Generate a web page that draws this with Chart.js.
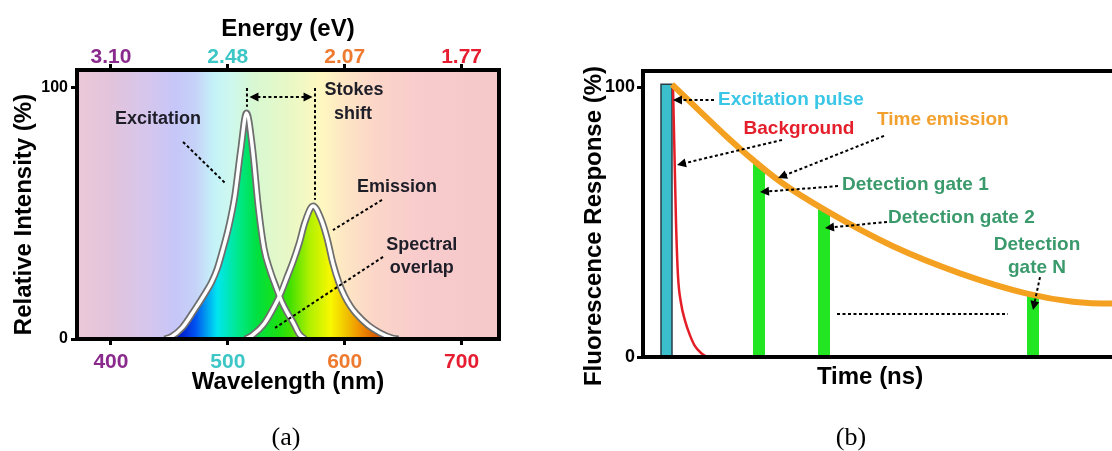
<!DOCTYPE html>
<html><head><meta charset="utf-8">
<script src="https://cdn.jsdelivr.net/npm/chart.js@4.4.1/dist/chart.umd.min.js"></script>
<style>
html,body{margin:0;padding:0;background:#fff;overflow:hidden;width:1112px;height:451px;}
#wrap{position:relative;width:1112px;height:451px;overflow:hidden;background:#fff;}
#ca{position:absolute;left:0;top:0;}
#cb{position:absolute;left:560px;top:0;}
.cap{position:absolute;font-family:'Liberation Serif','Times New Roman',serif;font-size:26px;color:#000;transform:translate(-50%,-50%);white-space:nowrap;}
</style></head><body>
<div id="wrap">
<canvas id="ca" width="540" height="451"></canvas>
<canvas id="cb" width="620" height="451"></canvas>
<div class="cap" style="left:286px;top:437px;">(a)</div>
<div class="cap" style="left:851px;top:437px;">(b)</div>
</div>
<script>
// ---------------- data: panel (a)
const wavelengthTicks = [400, 500, 600, 700];
const energyLabels = ['3.10', '2.48', '2.07', '1.77'];
const intensityTicks = [0, 100];
const excitationNm  = [446, 452, 461, 471, 481, 486, 491, 496, 501, 506, 511, 516, 521, 526, 531, 536, 541, 546, 551, 556, 561, 566];
const excitationVal = [0, 1, 4.5, 11.2, 18.5, 22.5, 28, 36, 45, 57, 75, 90, 76.5, 53, 36, 27.5, 21, 15, 10.4, 6.5, 2, 0];
const emissionNm  = [515, 521, 531, 541, 546, 551, 556, 561, 566, 573, 580, 585, 590, 595, 600, 605, 610, 620, 630, 640, 646];
const emissionVal = [0, 1.5, 6, 14, 19, 25, 31, 38, 46.5, 53, 47.5, 40, 30, 22.5, 17, 13, 10, 5.5, 2.5, 0.5, 0];

// ---------------- data: panel (b)
const responseTicks = [0, 100];
const pulseT = [3.6, 3.6, 5.8, 5.8];
const pulseV = [0, 101, 101, 0];
const backgroundT = [6.0, 6.3, 6.6, 7.0, 7.6, 8.4, 9.4, 10.4, 11.6, 12.8];
const backgroundV = [100, 75, 50, 30, 20, 13.5, 8, 4, 1.5, 0];
const timeEmissionT = [5.8, 11.4, 16.8, 22, 27.4, 36.8, 50, 63.4, 76.8, 86, 94, 100];
const timeEmissionV = [101, 91, 81.5, 73, 65, 54, 41, 31, 23.5, 20.5, 19.8, 20];
const gate1T = [22, 22, 24.4, 24.4];   const gate1V = [0, 73, 69.4, 0];
const gate2T = [35, 35, 37.4, 37.4];   const gate2V = [0, 56.1, 53.4, 0];
const gateNT = [76.8, 76.8, 79.2, 79.2]; const gateNV = [0, 23.5, 22.7, 0];

// ---------------- styles
const FONT = "'Liberation Sans', Arial, Helvetica, sans-serif";
Chart.defaults.font.family = FONT;
Chart.defaults.color = '#000';
const tickColors = ['#8a2a8c', '#3cc6c6', '#ee7a30', '#e61c30'];
const bgStops = [[371,'#ecc8d8'],[400,'#e2c4dc'],[430,'#d6c6ec'],[455,'#c6c6f8'],[472,'#c6d2f8'],[488,'#c4f2f8'],[503,'#cef8ee'],[522,'#d8f8d2'],[552,'#e8f8c6'],[580,'#fff8c0'],[600,'#fde6c4'],[625,'#fcd6c8'],[660,'#f8cccc'],[732,'#f4c8c8']];
const fillStops = [[458,'#0018c8'],[472,'#0050f0'],[482,'#00a0f0'],[491,'#00e6f0'],[508,'#00e890'],[525,'#00e040'],[545,'#20e010'],[553,'#40e000'],[570,'#b0f000'],[588,'#f8f800'],[602,'#f0c000'],[613,'#f09000'],[628,'#d85800'],[640,'#c04000']];

const pts = (xs, ys) => xs.map((x, i) => ({x, y: ys[i]}));

function hGradient(chart, stops) {
  const xs = chart.scales.x, ctx = chart.ctx;
  const x0 = xs.getPixelForValue(stops[0][0]);
  const x1 = xs.getPixelForValue(stops[stops.length - 1][0]);
  const g = ctx.createLinearGradient(x0, 0, x1, 0);
  stops.forEach(([v, c]) => g.addColorStop(Math.min(1, Math.max(0, (xs.getPixelForValue(v) - x0) / (x1 - x0))), c));
  return g;
}
function spectrumFill(context) {
  const chart = context.chart;
  if (!chart.chartArea || !chart.scales.x) return 'rgba(0,0,0,0)';
  return hGradient(chart, fillStops);
}

function arrowHead(ctx, x1, y1, x2, y2, len, half) {
  const a = Math.atan2(y2 - y1, x2 - x1);
  ctx.beginPath();
  ctx.moveTo(x2, y2);
  ctx.lineTo(x2 - len * Math.cos(a) + half * Math.sin(a), y2 - len * Math.sin(a) - half * Math.cos(a));
  ctx.lineTo(x2 - len * Math.cos(a) - half * Math.sin(a), y2 - len * Math.sin(a) + half * Math.cos(a));
  ctx.closePath();
  ctx.fill();
}

function notesPlugin(notes, fontSize) {
  return {
    id: 'notes',
    afterDraw(chart) {
      const {ctx, chartArea} = chart;
      const xs = chart.scales.x, ys = chart.scales.y;
      const P = p => [xs.getPixelForValue(p[0]), ys.getPixelForValue(p[1])];
      ctx.save();
      ctx.strokeStyle = '#000'; ctx.lineWidth = 4; ctx.setLineDash([]);
      ctx.strokeRect(chartArea.left, chartArea.top, chartArea.right - chartArea.left, chartArea.bottom - chartArea.top);
      for (const n of notes) {
        if (n.kind === 'text') {
          ctx.font = 'bold ' + fontSize + 'px ' + FONT;
          ctx.fillStyle = n.color || '#1e1e28';
          ctx.textAlign = n.align || 'center';
          ctx.textBaseline = 'middle';
          const [x, y] = P([n.x, n.y]);
          ctx.fillText(n.text, x, y);
        } else {
          let [x1, y1] = P(n.from), [x2, y2] = P(n.to);
          const L = 9, H = 4.5;
          const a = Math.atan2(y2 - y1, x2 - x1);
          let sx = x1, sy = y1, ex = x2, ey = y2;
          if (n.kind === 'arrow') { ex = x2 - (L - 1) * Math.cos(a); ey = y2 - (L - 1) * Math.sin(a); }
          if (n.both) { sx = x1 + (L - 1) * Math.cos(a); sy = y1 + (L - 1) * Math.sin(a); }
          ctx.strokeStyle = '#000'; ctx.fillStyle = '#000';
          ctx.lineWidth = 2; ctx.setLineDash([3, 2.5]); ctx.lineCap = 'butt';
          ctx.beginPath(); ctx.moveTo(sx, sy); ctx.lineTo(ex, ey); ctx.stroke();
          ctx.setLineDash([]);
          if (n.kind === 'arrow') arrowHead(ctx, x1, y1, x2, y2, L, H);
          if (n.both) arrowHead(ctx, x2, y2, x1, y1, L, H);
        }
      }
      for (const t of (chart.options.freeTitles || [])) {
        const ca = chartArea;
        ctx.save();
        ctx.font = 'bold 24px ' + FONT; ctx.fillStyle = '#000';
        ctx.textAlign = 'center'; ctx.textBaseline = 'middle';
        ctx.translate(ca.left + t.dx, (t.fromBottom ? ca.bottom : (ca.top + ca.bottom) / 2) + t.dy);
        if (t.rotate) ctx.rotate(-Math.PI / 2);
        ctx.fillText(t.text, 0, 0);
        ctx.restore();
      }
      ctx.restore();
    }
  };
}

const bgPlugin = {
  id: 'bgGrad',
  beforeDraw(chart) {
    if (!chart.options.spectrumBackground) return;
    const {ctx, chartArea: ca} = chart;
    ctx.save();
    ctx.fillStyle = hGradient(chart, bgStops);
    ctx.fillRect(ca.left, ca.top, ca.right - ca.left, ca.bottom - ca.top);
    ctx.restore();
  }
};

const tickGrid = {display: true, drawOnChartArea: false, drawTicks: true, tickLength: 6, lineWidth: 3, color: '#000'};

// ---------------- panel (a)
const notesA = [
  {kind: 'text', text: 'Excitation', x: 440.3, y: 87.6},
  {kind: 'text', text: 'Stokes', x: 608, y: 99.2},
  {kind: 'text', text: 'shift', x: 607, y: 89.6},
  {kind: 'text', text: 'Emission', x: 644.7, y: 60.6},
  {kind: 'text', text: 'Spectral', x: 666, y: 37.5},
  {kind: 'text', text: 'overlap', x: 666, y: 28.3},
  {kind: 'line', from: [461.7, 78.5], to: [497.6, 62.2]},
  {kind: 'line', from: [516.4, 100], to: [516.4, 92.5]},
  {kind: 'line', from: [574.6, 100], to: [574.6, 55.5]},
  {kind: 'arrow', both: true, from: [518.5, 96.4], to: [572.5, 96.4]},
  {kind: 'line', from: [631.9, 55.4], to: [590, 43.4]},
  {kind: 'line', from: [632.8, 32.7], to: [540.4, 4.4]}
];

new Chart(document.getElementById('ca'), {
  type: 'line',
  data: {
    datasets: [
      {label: 'Excitation', data: pts(excitationNm, excitationVal), borderColor: '#6e6e6e', borderWidth: 7, fill: 'origin', backgroundColor: spectrumFill, order: 4},
      {label: 'Emission', data: pts(emissionNm, emissionVal), borderColor: '#6e6e6e', borderWidth: 7, fill: 'origin', backgroundColor: spectrumFill, order: 3},
      {label: 'Excitation core', data: pts(excitationNm, excitationVal), borderColor: '#ffffff', borderWidth: 3.5, fill: false, order: 2},
      {label: 'Emission core', data: pts(emissionNm, emissionVal), borderColor: '#ffffff', borderWidth: 3.5, fill: false, order: 1}
    ]
  },
  options: {
    responsive: false, animation: false,
    spectrumBackground: true,
    freeTitles: [{text: 'Relative Intensity (%)', dx: -53, dy: 10, rotate: true}],
    layout: {padding: {left: 0, right: 41, top: 0, bottom: 54}},
    elements: {point: {radius: 0}, line: {cubicInterpolationMode: 'monotone'}},
    plugins: {legend: {display: false}, tooltip: {enabled: false}, filler: {drawTime: 'beforeDatasetsDraw'}},
    scales: {
      x: {
        type: 'linear', position: 'bottom', min: 371, max: 732,
        afterBuildTicks: s => { s.ticks = wavelengthTicks.map(v => ({value: v})); },
        afterFit: s => { s.height = 58; },
        grid: tickGrid, border: {display: false},
        ticks: {font: {size: 21, weight: 'bold'}, padding: 5, maxRotation: 0, autoSkip: false, color: c => tickColors[c.index]},
        title: {display: true, text: 'Wavelength (nm)', font: {size: 24, weight: 'bold'}, color: '#000', padding: 0}
      },
      x2: {
        type: 'linear', axis: 'x', position: 'top', min: 371, max: 732,
        afterBuildTicks: s => { s.ticks = wavelengthTicks.map(v => ({value: v})); },
        afterFit: s => { s.height = 70; },
        grid: tickGrid, border: {display: false},
        ticks: {font: {size: 21, weight: 'bold'}, padding: -6, maxRotation: 0, autoSkip: false, color: c => tickColors[c.index], callback: (v, i) => energyLabels[i]},
        title: {display: true, text: 'Energy (eV)', font: {size: 24, weight: 'bold'}, color: '#000', padding: {top: 15, bottom: 0}}
      },
      y: {
        type: 'linear', min: 0, max: 107.17,
        afterBuildTicks: s => { s.ticks = intensityTicks.map(v => ({value: v})); },
        afterFit: s => { s.width = 77; },
        grid: tickGrid, border: {display: false},
        ticks: {font: {size: 16, weight: 'bold'}, padding: 3, color: '#000'}
      }
    }
  },
  plugins: [bgPlugin, notesPlugin(notesA, 18)]
});

// ---------------- panel (b)
const notesB = [
  {kind: 'text', text: 'Excitation pulse', x: 15, y: 95.2, color: '#3ac6e6', align: 'left'},
  {kind: 'arrow', from: [14.2, 95.2], to: [6.0, 95.2]},
  {kind: 'text', text: 'Background', x: 31.2, y: 84.4, color: '#e41e2a'},
  {kind: 'arrow', from: [27.8, 80.4], to: [6.8, 71.1]},
  {kind: 'text', text: 'Time emission', x: 46.8, y: 87.8, color: '#f2a02e', align: 'left'},
  {kind: 'arrow', from: [48.2, 81.9], to: [27, 66.3]},
  {kind: 'text', text: 'Detection gate 1', x: 39.8, y: 63.7, color: '#3a9a6c', align: 'left'},
  {kind: 'arrow', from: [39, 63.3], to: [23.4, 61.1]},
  {kind: 'text', text: 'Detection gate 2', x: 49, y: 51.5, color: '#3a9a6c', align: 'left'},
  {kind: 'arrow', from: [48.8, 50], to: [36.4, 47.8]},
  {kind: 'text', text: 'Detection', x: 78.8, y: 41.5, color: '#3a9a6c'},
  {kind: 'text', text: 'gate N', x: 78.8, y: 33, color: '#3a9a6c'},
  {kind: 'arrow', from: [79.4, 29.6], to: [78, 17.4]},
  {kind: 'line', from: [38.8, 15.9], to: [73, 15.9]}
];

const gateStyle = {borderWidth: 0, borderColor: 'rgba(0,0,0,0)', backgroundColor: '#22e622', fill: 'origin', tension: 0, cubicInterpolationMode: 'default'};

new Chart(document.getElementById('cb'), {
  type: 'line',
  data: {
    datasets: [
      Object.assign({label: 'Detection gate 1', data: pts(gate1T, gate1V), order: 6}, gateStyle),
      Object.assign({label: 'Detection gate 2', data: pts(gate2T, gate2V), order: 5}, gateStyle),
      Object.assign({label: 'Detection gate N', data: pts(gateNT, gateNV), order: 4}, gateStyle),
      {label: 'Excitation pulse', data: pts(pulseT, pulseV), borderColor: '#2a3c48', borderWidth: 1.5, backgroundColor: '#3cbfcc', fill: 'origin', tension: 0, cubicInterpolationMode: 'default', order: 3},
      {label: 'Background', data: pts(backgroundT, backgroundV), borderColor: '#e41e26', borderWidth: 2.5, fill: false, order: 2},
      {label: 'Time emission', data: pts(timeEmissionT, timeEmissionV), borderColor: '#f4a020', borderWidth: 6, fill: false, order: 1}
    ]
  },
  options: {
    responsive: false, animation: false,
    freeTitles: [
      {text: 'Fluorescence Response (%)', dx: -49, dy: 12, rotate: true},
      {text: 'Time (ns)', dx: 227, dy: 20, fromBottom: true}
    ],
    layout: {padding: {left: 0, right: 37, top: 0, bottom: 62}},
    elements: {point: {radius: 0}, line: {cubicInterpolationMode: 'monotone'}},
    plugins: {legend: {display: false}, tooltip: {enabled: false}, filler: {drawTime: 'beforeDatasetsDraw'}},
    scales: {
      x: {
        type: 'linear', position: 'bottom', min: 0, max: 100,
        afterFit: s => { s.height = 32; },
        grid: {display: false}, border: {display: false},
        ticks: {display: false}
      },
      x2: {
        type: 'linear', axis: 'x', position: 'top', min: 0, max: 100,
        afterFit: s => { s.height = 71; },
        grid: {display: false}, border: {display: false},
        ticks: {display: false}
      },
      y: {
        type: 'linear', min: 0, max: 105.93,
        afterBuildTicks: s => { s.ticks = responseTicks.map(v => ({value: v})); },
        afterFit: s => { s.width = 83; },
        grid: tickGrid, border: {display: false},
        ticks: {font: {size: 18, weight: 'bold'}, padding: 2, color: '#000'}
      }
    }
  },
  plugins: [notesPlugin(notesB, 19)]
});
</script>
</body></html>
